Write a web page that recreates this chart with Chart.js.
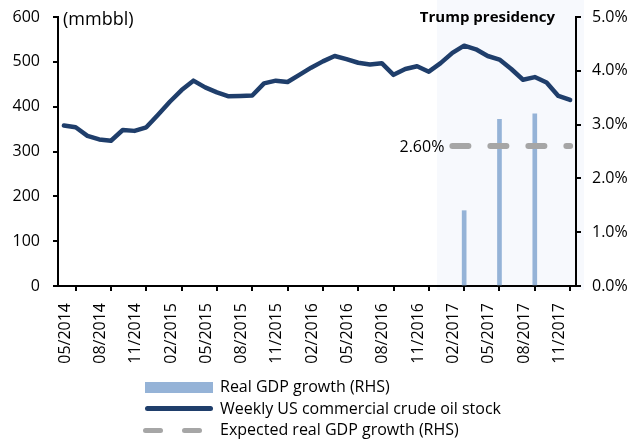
<!DOCTYPE html>
<html>
<head>
<meta charset="utf-8">
<script src="https://cdn.jsdelivr.net/npm/chart.js@4.4.1/dist/chart.umd.min.js"></script>
<style>
  body { margin: 0; background: #fff; }
  #wrap { position: relative; width: 638px; height: 444px; font-family: 'Open Sans', sans-serif; }
  .key { position: absolute; left: 220px; font-size: 16px; line-height: 21.5px; color: #000; white-space: nowrap; }
  .sw { position: absolute; }
</style>
</head>
<body>
<div id="wrap">
  <canvas id="chart" width="638" height="444"></canvas>
  <div id="legend"></div>
</div>
<script>
"use strict";

// months on the axis, one per month (ticks sit at the start of the month)
const months = [
  '05/2014','06/2014','07/2014','08/2014','09/2014','10/2014','11/2014','12/2014',
  '01/2015','02/2015','03/2015','04/2015','05/2015','06/2015','07/2015','08/2015','09/2015','10/2015','11/2015','12/2015',
  '01/2016','02/2016','03/2016','04/2016','05/2016','06/2016','07/2016','08/2016','09/2016','10/2016','11/2016','12/2016',
  '01/2017','02/2017','03/2017','04/2017','05/2017','06/2017','07/2017','08/2017','09/2017','10/2017','11/2017','12/2017'
];
const tickLabels = ['05/2014','08/2014','11/2014','02/2015','05/2015','08/2015','11/2015','02/2016',
  '05/2016','08/2016','11/2016','02/2017','05/2017','08/2017','11/2017'];

// weekly US commercial crude oil stock (mmbbl), one reading per month
const crudeStock = [358, 354, 335, 327, 324, 348, 346, 354, 382, 411,
  437, 458, 443, 432, 423, 424, 425, 452, 458, 455,
  471, 487, 501, 513, 506, 498, 494, 497, 471, 484,
  490, 478, 497, 520, 536, 528, 513, 505, 484, 460,
  466, 454, 424, 415];

// real GDP growth (RHS, %)
const gdpMonths = ['03/2017', '06/2017', '09/2017'];
const gdpGrowth = [1.4, 3.1, 3.2];

// expected real GDP growth (RHS, %)
const expectedMonths = ['02/2017', '12/2017'];
const expectedGrowth = [2.6, 2.6];

const presidencyStart = '01/2017';
const presidencyDayShare = 0.2;

const stockLabel = 'Weekly US commercial crude oil stock';
const gdpLabel = 'Real GDP growth (RHS)';
const expectedLabel = 'Expected real GDP growth (RHS)';

const navy = '#1F3E6B';
const lightBlue = '#95B3D7';
const grey = '#A6A6A6';

const mid = m => months.indexOf(m) + 0.5;

Chart.defaults.font.family = "'Open Sans', sans-serif";
Chart.defaults.font.size = 16;
Chart.defaults.color = '#000';

const extras = {
  id: 'extras',
  beforeDraw(chart) {
    const { ctx, chartArea, scales } = chart;
    const x0 = scales.x.getPixelForValue(months.indexOf(presidencyStart) + presidencyDayShare);
    ctx.save();
    ctx.fillStyle = '#F7F9FD';
    ctx.fillRect(x0, 0, chartArea.right + 8 - x0, chartArea.bottom + 4);
    ctx.restore();
  },
  afterDraw(chart) {
    const { ctx, chartArea, scales } = chart;
    ctx.save();
    ctx.fillStyle = '#000';
    ctx.textBaseline = 'alphabetic';

    ctx.font = "18px 'Open Sans'";
    ctx.textAlign = 'left';
    ctx.fillText('(mmbbl)', chartArea.left + 5, scales.y.getPixelForValue(600) + 8);

    ctx.font = "bold 15px 'Open Sans'";
    ctx.textAlign = 'right';
    ctx.fillText('Trump presidency', chartArea.right - 21, 22);

    ctx.font = "16px 'Open Sans'";
    ctx.textAlign = 'right';
    ctx.fillText(expectedGrowth[0].toFixed(2) + '%',
      scales.x.getPixelForValue(mid(expectedMonths[0])) - 8,
      scales.y1.getPixelForValue(expectedGrowth[0]) + 5.5);
    ctx.restore();
  }
};

// keep the plot box where the original has it
const noEdgePadding = s => { s.paddingTop = 0; s.paddingBottom = 0; };

const ctx = document.getElementById('chart');

new Chart(ctx, {
  type: 'bar',
  data: {
    datasets: [
      {
        type: 'line',
        label: stockLabel,
        data: crudeStock.map((v, i) => ({ x: i + 0.5, y: v })),
        yAxisID: 'y',
        borderColor: navy,
        borderWidth: 4.5,
        borderJoinStyle: 'round',
        borderCapStyle: 'round',
        pointRadius: 0,
        tension: 0,
        order: 0
      },
      {
        type: 'line',
        label: expectedLabel,
        data: expectedMonths.map((m, i) => ({ x: mid(m), y: expectedGrowth[i] })),
        yAxisID: 'y1',
        borderColor: grey,
        borderWidth: 6,
        borderDash: [16, 22],
        borderCapStyle: 'round',
        pointRadius: 0,
        order: 1
      },
      {
        type: 'bar',
        label: gdpLabel,
        data: gdpMonths.map((m, i) => ({ x: mid(m), y: gdpGrowth[i] })),
        yAxisID: 'y1',
        backgroundColor: lightBlue,
        barThickness: 4,
        order: 2
      }
    ]
  },
  options: {
    responsive: false,
    devicePixelRatio: 1,
    animation: false,
    layout: { padding: { top: 17, left: 0, right: 0, bottom: 0 } },
    plugins: { legend: { display: false }, tooltip: { enabled: false } },
    scales: {
      x: {
        type: 'linear',
        min: 0,
        max: months.length,
        offset: false,
        afterBuildTicks: axis => { axis.ticks = tickLabels.map(l => ({ value: months.indexOf(l) })); },
        afterFit: s => { s.height = 158; },
        ticks: {
          callback: v => months[v],
          autoSkip: false,
          minRotation: 90,
          maxRotation: 90,
          labelOffset: 7,
          padding: 12
        },
        grid: { drawOnChartArea: false, tickLength: 5, color: '#000', lineWidth: 2 },
        border: { color: '#000', width: 2 }
      },
      y: {
        position: 'left',
        min: 0,
        max: 600,
        afterFit: s => { s.width = 58; noEdgePadding(s); },
        ticks: { stepSize: 100, padding: 13 },
        grid: { drawOnChartArea: false, tickLength: 5, color: '#000', lineWidth: 2 },
        border: { color: '#000', width: 2 }
      },
      y1: {
        position: 'right',
        min: 0,
        max: 5,
        afterFit: s => { s.width = 62; noEdgePadding(s); },
        ticks: { stepSize: 1, padding: 11, callback: v => v.toFixed(1) + '%' },
        grid: { drawOnChartArea: false, tickLength: 5, color: '#000', lineWidth: 2 },
        border: { color: '#000', width: 2 }
      }
    }
  },
  plugins: [extras]
});

function creaLegenda() {
  return `
    <div class="sw" style="left:145px;top:382px;width:68px;height:11px;background:${lightBlue}"></div>
    <div class="key" style="top:376px">${gdpLabel}</div>

    <div class="sw" style="left:145px;top:405.5px;width:68px;height:5px;border-radius:2.5px;background:${navy}"></div>
    <div class="key" style="top:397.5px">${stockLabel}</div>

    <div class="sw" style="left:143px;top:427.5px;width:20px;height:5px;border-radius:2.5px;background:${grey}"></div>
    <div class="sw" style="left:182px;top:427.5px;width:20px;height:5px;border-radius:2.5px;background:${grey}"></div>
    <div class="key" style="top:419px">${expectedLabel}</div>
  `;
}

document.getElementById('legend').innerHTML = creaLegenda();
</script>
</body>
</html>
